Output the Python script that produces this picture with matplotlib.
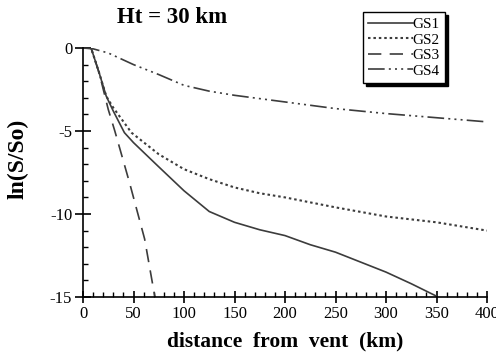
import numpy as np
import matplotlib
matplotlib.use("Agg")
import matplotlib.pyplot as plt
from matplotlib.ticker import MultipleLocator

plt.rcParams.update({
    'font.family': ['Liberation Serif', 'DejaVu Serif'],
    'axes.unicode_minus': False,
    'xtick.labelsize': 12,
    'ytick.labelsize': 12,
})

# ln(S/So) against distance from vent, one curve per grain size class
x_gs1 = [0, 8, 16, 23, 30, 41, 50, 74, 100, 111, 125, 150, 175, 200, 225, 250, 275, 300, 325, 350]
y_gs1 = [0, 0, -1.5, -2.9, -3.8, -5.1, -5.7, -7.1, -8.6, -9.15, -9.85, -10.5, -10.95, -11.3, -11.85, -12.3, -12.9, -13.5, -14.2, -14.95]

x_gs2 = [0, 8, 16, 23, 30, 48, 75, 100, 125, 150, 175, 200, 250, 300, 350, 400]
y_gs2 = [0, 0, -1.5, -2.9, -3.6, -5.1, -6.4, -7.3, -7.9, -8.4, -8.75, -9.0, -9.6, -10.15, -10.5, -11.0]

x_gs3 = [0, 8, 16, 25, 31.5, 46, 61, 70.6, 72]
y_gs3 = [0, 0, -1.5, -3.7, -5.0, -8.1, -11.5, -14.8, -15.2]

x_gs4 = [0, 10, 25, 50, 75, 100, 125, 150, 175, 200, 250, 300, 350, 400]
y_gs4 = [0, -0.05, -0.3, -1.0, -1.6, -2.25, -2.6, -2.85, -3.05, -3.25, -3.65, -3.95, -4.2, -4.45]

labels = ['GS1', 'GS2', 'GS3', 'GS4']

fig = plt.figure(figsize=(4.96, 3.52), dpi=100)
ax = fig.add_axes([83/496, 55/352, 404/496, 249/352])

col = '#3c3c3c'
lw = 1.2
ax.plot(x_gs1, y_gs1, color=col, lw=lw, label=labels[0])
ax.plot(x_gs2, y_gs2, color=col, lw=lw + 0.3, linestyle=(0, (1.2, 1.4)), label=labels[1])
ax.plot(x_gs3, y_gs3, color=col, lw=lw, linestyle=(0, (8, 5)), label=labels[2])
ax.plot(x_gs4, y_gs4, color=col, lw=lw,
        linestyle=(0, (10, 2.5, 1.2, 2.5, 1.2, 2.5, 1.2, 2.5)), label=labels[3])

ax.set_xlim(0, 400)
ax.set_ylim(-15, 0)
ax.xaxis.set_major_locator(MultipleLocator(50))
ax.xaxis.set_minor_locator(MultipleLocator(10))
ax.yaxis.set_major_locator(MultipleLocator(5))
ax.yaxis.set_minor_locator(MultipleLocator(1))

for side in ['top', 'right']:
    ax.spines[side].set_visible(False)
for side in ['left', 'bottom']:
    ax.spines[side].set_linewidth(1.2)

ax.tick_params(axis='x', which='major', direction='inout', length=9, width=1.2, pad=2)
ax.tick_params(axis='y', which='major', direction='inout', length=11.5, width=1.2, pad=2)
ax.tick_params(which='minor', direction='in', length=3.5, width=1.0)

ax.set_xlabel('distance  from  vent  (km)', fontsize=15.5, fontweight='bold')
ax.xaxis.set_label_coords(0.5, -0.14)
ax.set_ylabel('ln(S/So)', fontsize=17, fontweight='bold')
ax.yaxis.set_label_coords(-0.134, 0.554)

fig.text(172/496, 1 - 17.5/352, 'Ht = 30 km', fontsize=16.5, fontweight='bold',
         ha='center', va='center')

leg = ax.legend(loc='upper right', bbox_to_anchor=(445/496, 1 - 12/352),
                bbox_transform=fig.transFigure, fontsize=11, frameon=True,
                fancybox=False, shadow={'color': 'black', 'alpha': 1},
                handlelength=2.9, handletextpad=0.0, labelspacing=0.12,
                borderpad=0.35, borderaxespad=0)
leg.get_frame().set_edgecolor('black')
leg.get_frame().set_linewidth(1.0)
leg.get_frame().set_alpha(1)

fig.savefig('out.png', dpi=100)
